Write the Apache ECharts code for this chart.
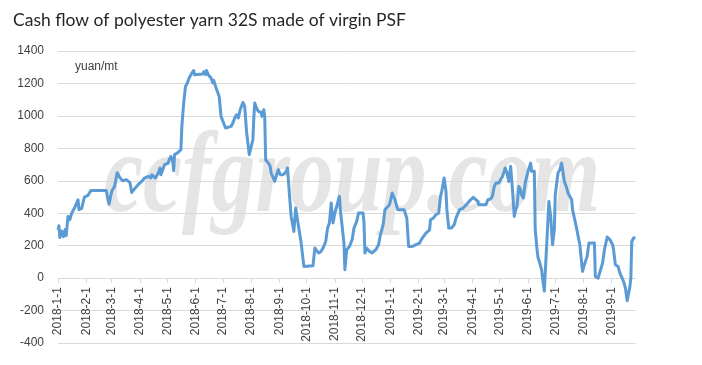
<!DOCTYPE html>
<html>
<head>
<meta charset="utf-8">
<script src="https://cdn.jsdelivr.net/npm/echarts@6/dist/echarts.min.js"></script>
<style>
html,body{margin:0;padding:0;background:#fff;}
#chart{width:702px;height:365px;}
</style>
</head>
<body>
<div id="chart"></div>
<script>
// Dates of readings (yyyy-mm-dd)
const dates = [
'2018-01-01','2018-01-02','2018-01-03','2018-01-05','2018-01-07','2018-01-09','2018-01-10','2018-01-12','2018-01-14','2018-01-16',
'2018-01-19','2018-01-23','2018-01-24','2018-01-27','2018-01-30','2018-02-03','2018-02-06','2018-02-23','2018-02-26','2018-03-01',
'2018-03-04','2018-03-07','2018-03-10','2018-03-13','2018-03-17','2018-03-21','2018-03-23','2018-03-26','2018-03-30','2018-04-03',
'2018-04-06','2018-04-10','2018-04-13','2018-04-14','2018-04-18','2018-04-21','2018-04-23','2018-04-24','2018-04-28','2018-05-02',
'2018-05-03','2018-05-05','2018-05-07','2018-05-08','2018-05-09','2018-05-12','2018-05-14','2018-05-16','2018-05-17','2018-05-19',
'2018-05-21','2018-05-23','2018-05-25','2018-05-28','2018-05-30','2018-05-31','2018-06-09','2018-06-10','2018-06-12','2018-06-13',
'2018-06-15','2018-06-18','2018-06-20','2018-06-21','2018-06-23','2018-06-25','2018-06-27','2018-06-29','2018-07-01','2018-07-04',
'2018-07-06','2018-07-10','2018-07-12','2018-07-14','2018-07-16','2018-07-17','2018-07-18','2018-07-20','2018-07-23','2018-07-25',
'2018-07-27','2018-07-30','2018-08-01','2018-08-03','2018-08-04','2018-08-05','2018-08-07','2018-08-09','2018-08-12','2018-08-13',
'2018-08-15','2018-08-16','2018-08-17','2018-08-19','2018-08-20','2018-08-22','2018-08-23','2018-08-27','2018-08-29','2018-08-31',
'2018-09-02','2018-09-05','2018-09-07','2018-09-09','2018-09-10','2018-09-12','2018-09-14','2018-09-17','2018-09-19','2018-09-21',
'2018-09-25','2018-09-28','2018-10-08','2018-10-10','2018-10-11','2018-10-14','2018-10-17','2018-10-19','2018-10-22','2018-10-24',
'2018-10-26','2018-10-28','2018-10-30','2018-11-01','2018-11-04','2018-11-06','2018-11-07','2018-11-09','2018-11-11','2018-11-12',
'2018-11-14','2018-11-17','2018-11-20','2018-11-22','2018-11-23','2018-11-25','2018-11-27','2018-11-29','2018-12-02','2018-12-03',
'2018-12-04','2018-12-06','2018-12-09','2018-12-12','2018-12-16','2018-12-19','2018-12-21','2018-12-24','2018-12-26','2018-12-28',
'2018-12-31','2019-01-03','2019-01-04','2019-01-06','2019-01-09','2019-01-16','2019-01-19','2019-01-21','2019-01-25','2019-01-29',
'2019-02-02','2019-02-05','2019-02-09','2019-02-13','2019-02-14','2019-02-17','2019-02-20','2019-02-23','2019-02-25','2019-02-26',
'2019-03-01','2019-03-03','2019-03-04','2019-03-06','2019-03-09','2019-03-12','2019-03-14','2019-03-18','2019-03-22','2019-03-27',
'2019-03-30','2019-04-02','2019-04-04','2019-04-07','2019-04-08','2019-04-16','2019-04-18','2019-04-21','2019-04-23','2019-04-25',
'2019-04-27','2019-04-30','2019-05-02','2019-05-04','2019-05-06','2019-05-07','2019-05-09','2019-05-11','2019-05-13','2019-05-15',
'2019-05-17','2019-05-18','2019-05-20','2019-05-22','2019-05-24','2019-05-25','2019-05-27','2019-05-29','2019-06-01','2019-06-04',
'2019-06-05','2019-06-08','2019-06-09','2019-06-11','2019-06-12','2019-06-14','2019-06-16','2019-06-17','2019-06-19','2019-06-24',
'2019-06-26','2019-06-28','2019-06-30','2019-07-01','2019-07-03','2019-07-04','2019-07-06','2019-07-08','2019-07-09','2019-07-11',
'2019-07-13','2019-07-15','2019-07-19','2019-07-20','2019-07-22','2019-07-24','2019-07-26','2019-07-28','2019-07-30','2019-07-31',
'2019-08-02','2019-08-05','2019-08-07','2019-08-13','2019-08-14','2019-08-17','2019-08-22','2019-08-24','2019-08-27','2019-08-30',
'2019-09-02','2019-09-03','2019-09-05','2019-09-08','2019-09-10','2019-09-14','2019-09-16','2019-09-18','2019-09-20','2019-09-21',
'2019-09-22','2019-09-23','2019-09-25','2019-09-27'
];
// Cash flow, yuan/mt
const cashFlow = [
298,323,250,290,255,300,262,380,360,400,
430,483,422,430,500,510,540,540,455,535,
565,650,619,600,607,588,528,550,576,596,
617,627,617,637,617,648,679,637,699,709,
730,750,719,662,761,771,781,792,935,1079,
1182,1203,1234,1264,1280,1254,1258,1272,1254,1280,
1254,1234,1203,1219,1182,1151,1120,997,993,925,
925,935,956,987,1007,1018,987,1038,1083,1058,
904,761,750,853,987,1079,1049,1028,1022,997,
1038,997,730,730,709,689,648,596,637,668,
637,637,648,658,679,525,380,288,432,360,
216,72,76,185,175,155,165,185,226,309,
340,463,340,401,463,504,422,319,216,52,
175,195,237,309,319,350,401,411,401,340,
155,185,165,155,175,206,267,329,422,426,
452,525,514,483,422,422,370,195,195,206,
216,247,278,298,360,370,391,401,504,525,
617,535,422,309,309,329,370,422,432,463,
483,498,488,473,452,452,483,488,504,565,
586,586,607,627,658,679,648,596,689,545,
380,411,442,565,545,514,494,586,658,709,
658,658,300,175,130,93,52,0,-80,473,
380,206,298,514,525,648,668,709,719,596,
565,525,483,422,370,319,309,206,93,41,
83,134,216,216,10,0,93,175,253,237,
206,175,83,72,31,-20,-61,-140,-140,-51,
0,226,247,250
];
// Month-start tick labels on the x axis
const monthTicks = [
'2018-01-01','2018-02-01','2018-03-01','2018-04-01','2018-05-01','2018-06-01','2018-07-01','2018-08-01','2018-09-01','2018-10-01','2018-11-01','2018-12-01',
'2019-01-01','2019-02-01','2019-03-01','2019-04-01','2019-05-01','2019-06-01','2019-07-01','2019-08-01','2019-09-01'
];
const yTicks = [-400,-200,0,200,400,600,800,1000,1200,1400];

function ts(s){ const p=s.split('-').map(Number); return Date.UTC(p[0],p[1]-1,p[2]); }
function fmt(v){ const d=new Date(v); return d.getUTCFullYear()+'-'+(d.getUTCMonth()+1)+'-'+d.getUTCDate(); }

const seriesData = dates.map((d,i)=>[ts(d), cashFlow[i]]);
const tickVals = monthTicks.map(ts);

const W = 702, H = 365;
const gridTop = 51, gridBottom = 22;
const yMin = yTicks[0], yMax = yTicks[yTicks.length-1];
const plotH = H - gridTop - gridBottom;
// shift the date axis up so it crosses the value axis at 0
const zeroOffset = -((0 - yMin) / (yMax - yMin)) * plotH;

const chart = echarts.init(document.getElementById('chart'), null, {renderer:'canvas'});
const font = 'Liberation Sans';
chart.setOption({
  animation: false,
  backgroundColor: '#ffffff',
  title: {
    text: 'Cash flow of polyester yarn 32S made of virgin PSF',
    left: 8, top: 6,
    textStyle: {fontFamily: 'Lato', fontSize: 17.5, fontWeight: 'normal', color: '#262626'}
  },
  graphic: [
    {
      type: 'text', left: 104, top: 124, z: 0, silent: true,
      style: {text: 'ccfgroup.com', font: 'italic bold 88px "Liberation Serif", serif', fill: '#e5e5e5'},
      scaleY: 1.3
    },
    {
      type: 'text', left: 75, top: 61, z: 10,
      style: {text: 'yuan/mt', font: '12px "Liberation Sans", Arial, sans-serif', fill: '#404040'}
    }
  ],
  grid: {left: 58, right: 66.6, top: gridTop, bottom: gridBottom, containLabel: false, outerBoundsMode: 'none'},
  xAxis: {
    type: 'value',
    position: 'bottom',
    offset: zeroOffset,
    min: ts('2018-01-01'), max: ts('2019-09-27'),
    axisLine: {onZero: false, lineStyle: {color: '#d9d9d9', width: 1}},
    axisTick: {show: true, length: 5, lineStyle: {color: '#d9d9d9'}, customValues: tickVals},
    axisLabel: {
      customValues: tickVals, rotate: 90, margin: 9,
      formatter: fmt, fontFamily: font, fontSize: 12, color: '#404040'
    },
    splitLine: {show: false}
  },
  yAxis: {
    type: 'value', min: yMin, max: yMax, interval: 200,
    axisLine: {show: false}, axisTick: {show: false},
    axisLabel: {fontFamily: font, fontSize: 12, color: '#404040', margin: 14, formatter: v => String(v)},
    splitLine: {lineStyle: {color: '#d9d9d9', width: 1}}
  },
  series: [{
    type: 'line', data: seriesData, showSymbol: false, symbol: 'none', z: 5,
    lineStyle: {color: '#5B9BD5', width: 3, join: 'round'}
  }]
});
</script>
</body>
</html>
